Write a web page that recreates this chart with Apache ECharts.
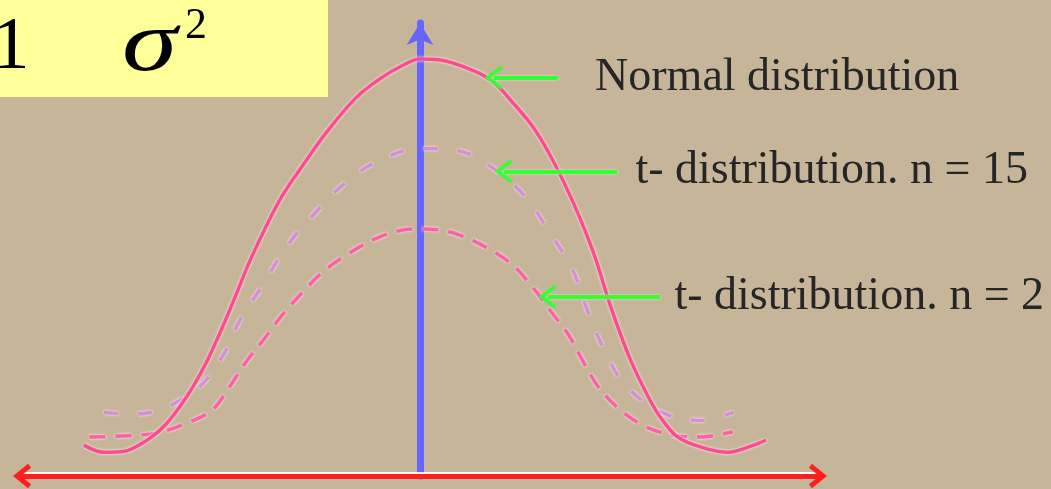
<!DOCTYPE html>
<html>
<head>
<meta charset="utf-8">
<script src="https://cdn.jsdelivr.net/npm/echarts@6/dist/echarts.min.js"></script>
<style>
html,body{margin:0;padding:0;background:#C6B598;}
#chart{width:1051px;height:489px;}
</style>
</head>
<body>
<div id="chart"></div>
<script>
// ---- data ----
var normalX = [-4.14,-3.89,-3.64,-3.46,-3.27,-3.12,-2.96,-2.80,-2.62,-2.43,-2.26,-2.10,-1.91,-1.69,-1.44,-1.15,-0.78,-0.49,-0.21,0,0.25,0.65,0.90,1.15,1.40,1.64,1.89,2.14,2.35,2.59,2.81,2.96,3.17,3.46,3.79,4.11,4.26];
var normalY = [0.030,0.023,0.024,0.030,0.040,0.051,0.067,0.086,0.112,0.145,0.177,0.208,0.240,0.273,0.302,0.334,0.368,0.386,0.399,0.405,0.404,0.394,0.383,0.362,0.338,0.306,0.265,0.216,0.164,0.113,0.077,0.057,0.038,0.028,0.023,0.030,0.035];

var t15X = [-3.89,-3.58,-3.21,-2.74,-2.44,-2.22,-1.94,-1.65,-1.32,-0.96,-0.52,0,0.47,0.90,1.30,1.60,1.88,2.07,2.26,2.53,3.00,3.46,3.86];
var t15Y = [0.062,0.060,0.064,0.085,0.115,0.151,0.185,0.222,0.253,0.282,0.306,0.318,0.316,0.299,0.271,0.236,0.200,0.159,0.124,0.088,0.061,0.054,0.062];

var t2X = [-4.07,-3.60,-3.23,-2.88,-2.56,-2.35,-2.14,-1.91,-1.70,-1.44,-1.20,-0.88,-0.53,-0.21,0,0.25,0.49,0.84,1.14,1.40,1.60,1.83,2.01,2.20,2.44,2.75,3.09,3.46,3.85];
var t2Y = [0.038,0.039,0.042,0.051,0.064,0.086,0.111,0.134,0.156,0.179,0.198,0.216,0.231,0.239,0.240,0.239,0.234,0.221,0.205,0.182,0.161,0.137,0.111,0.086,0.066,0.049,0.040,0.038,0.043];

var seriesNames = ['Normal distribution', 't- distribution. n = 15', 't- distribution. n = 2'];
// arrow annotations: tip x, tail x, height
var arrowTipX = [0.91, 1.03, 1.57];
var arrowEndX = [1.70, 2.43, 2.96];
var arrowY = [0.387, 0.296, 0.174];

function pairs(xs, ys){ return xs.map(function(x,i){ return [x, ys[i]]; }); }

var chevronThick = 'path://M50,0 L100,62 L84,74 L50,32 L16,74 L0,62 Z';
var chevronThin = 'path://M50,0 L100,76 L88,86 L50,28 L12,86 L0,76 Z';
var labelGaps = [37, 18, 14];

var arrowData = arrowTipX.map(function(tx, i){
  return [
    { coord: [tx, arrowY[i]], name: seriesNames[i],
      label: { distance: labelGaps[i] } },
    { coord: [arrowEndX[i], arrowY[i]] }
  ];
});

var chart = echarts.init(document.getElementById('chart'), null, {renderer:'canvas'});
var option = {
  backgroundColor: '#C6B598',
  animation: false,
  grid: { left: 22, right: 233, top: 23, bottom: 13 },
  xAxis: {
    type: 'value', min: -4.9, max: 4.9,
    splitLine: {show:false}, axisTick: {show:false}, axisLabel: {show:false},
    axisLine: { show: true, onZero: true, symbol: [chevronThick, chevronThick], symbolSize: [26, 18],
      lineStyle: { color: '#FF1E1E', width: 5, shadowColor: 'rgba(255,255,255,0.9)', shadowOffsetY: -2 } }
  },
  yAxis: {
    type: 'value', min: 0, max: 0.44,
    splitLine: {show:false}, axisTick: {show:false}, axisLabel: {show:false},
    axisLine: { show: true, onZero: true, symbol: ['none', 'arrow'], symbolSize: [20, 22],
      lineStyle: { color: '#6666FF', width: 7 } }
  },
  graphic: [
    { type: 'rect', left: 0, top: 0, shape: { width: 328, height: 97 }, style: { fill: '#FFFF99' }, z: 10 },
    { type: 'text', x: -8, y: 48, z: 11, style: { text: '1', font: '75px "Liberation Serif"', fill: '#000', verticalAlign: 'middle', align: 'left' } },
    { type: 'text', x: 122, y: 47, scaleX: 1.3, z: 11, style: { text: 'σ', font: 'italic 86px "Liberation Serif"', fill: '#000', verticalAlign: 'middle', align: 'left' } },
    { type: 'text', x: 185, y: 26, z: 11, style: { text: '2', font: '44px "Liberation Serif"', fill: '#000', verticalAlign: 'middle', align: 'left' } }
  ],
  series: [
    {
      name: seriesNames[0], type: 'line', data: pairs(normalX, normalY), smooth: 0.35, showSymbol: false, silent: true,
      lineStyle: { color: '#FF4A93', width: 3.5, shadowColor: 'rgba(255,255,255,0.9)', shadowBlur: 3 },
      z: 3,
      markLine: {
        silent: true, animation: false,
        symbol: [chevronThin, 'none'], symbolSize: [24, 18],
        lineStyle: { color: '#33FF33', width: 4, type: 'solid', shadowColor: 'rgba(255,255,255,0.8)', shadowBlur: 2 },
        label: { show: true, position: 'end', formatter: '{b}', color: '#262626',
          fontFamily: 'Liberation Serif', fontSize: 46 },
        data: arrowData
      }
    },
    {
      name: seriesNames[1], type: 'line', data: pairs(t15X, t15Y), smooth: 0.35, showSymbol: false, silent: true,
      lineStyle: { color: '#D88CDB', width: 3.5, type: [14, 20], shadowColor: 'rgba(255,255,255,0.9)', shadowBlur: 3 },
      z: 2
    },
    {
      name: seriesNames[2], type: 'line', data: pairs(t2X, t2Y), smooth: 0.35, showSymbol: false, silent: true,
      lineStyle: { color: '#FF5FA8', width: 3.5, type: [16, 10], shadowColor: 'rgba(255,255,255,0.9)', shadowBlur: 3 },
      z: 2
    }
  ]
};
chart.setOption(option);
</script>
</body>
</html>
